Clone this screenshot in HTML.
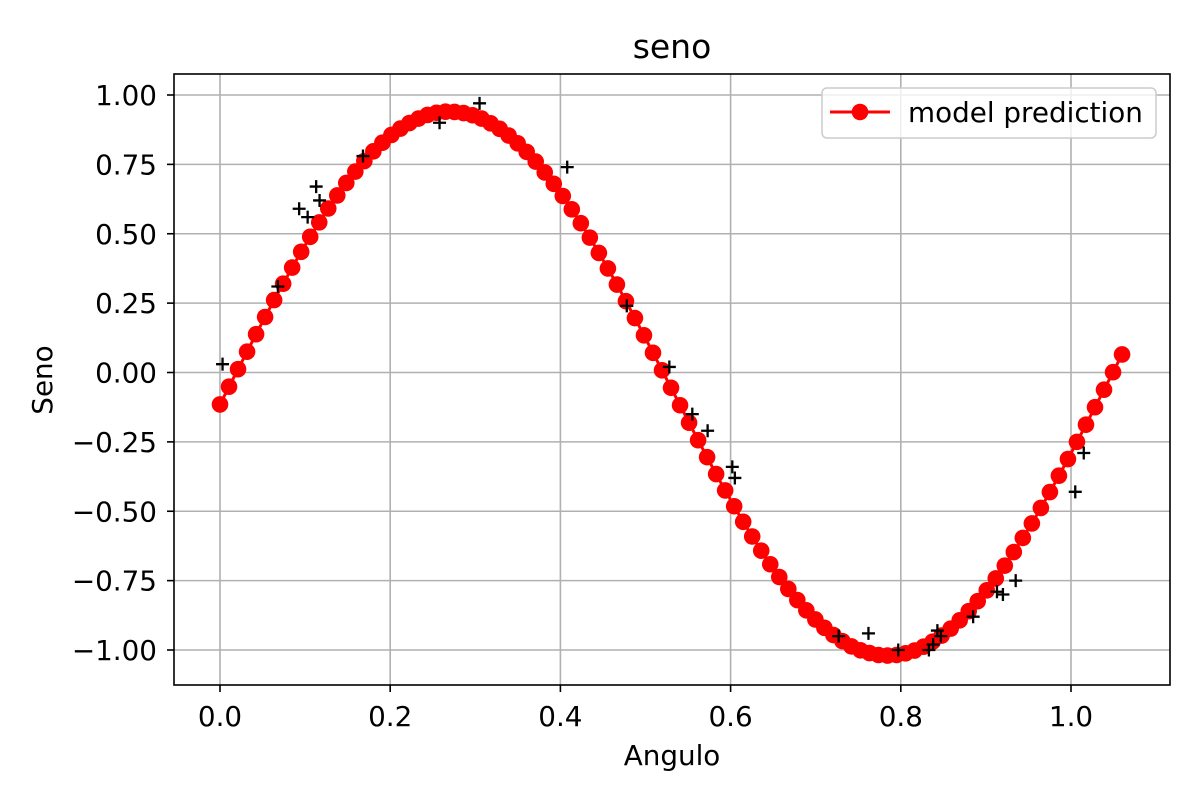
<!DOCTYPE html>
<html><head><meta charset="utf-8"><style>
html,body{margin:0;padding:0;background:#fff;}
svg{display:block;font-family:"DejaVu Sans","Liberation Sans",sans-serif;}
</style></head><body>
<svg id="chart" width="1200" height="800" viewBox="0 0 1200 800">
<rect width="1200" height="800" fill="#fff"/>
<g id="grid"></g>
<g id="series"></g>
<rect x="174" y="74" width="996" height="611" fill="none" stroke="#000" stroke-width="1.6"/>
<g id="ticks"></g>
<text x="672" y="58" font-size="33" text-anchor="middle">seno</text>
<text x="672" y="765" font-size="27.8" text-anchor="middle">Angulo</text>
<text x="0" y="0" font-size="27.8" text-anchor="middle" transform="translate(52,380) rotate(-90)">Seno</text>
<g>
<rect x="822" y="88" width="334" height="50" rx="5" fill="#fff" fill-opacity="0.8" stroke="#ccc" stroke-width="1.5"/>
<line x1="830" y1="112" x2="890" y2="112" stroke="red" stroke-width="3"/>
<circle cx="860" cy="112" r="8.3" fill="red"/>
<text x="908" y="122" font-size="27.8">model prediction</text>
</g>
</svg>
<script>
const predY = [-0.115,-0.051,0.012,0.075,0.138,0.200,0.261,0.320,0.378,0.435,0.489,0.541,0.591,0.638,0.683,0.724,0.762,0.797,0.828,0.856,0.879,0.899,0.915,0.928,0.936,0.940,0.939,0.935,0.927,0.915,0.898,0.878,0.854,0.826,0.795,0.760,0.721,0.680,0.636,0.588,0.538,0.486,0.431,0.375,0.317,0.257,0.196,0.134,0.071,0.008,-0.055,-0.118,-0.181,-0.244,-0.305,-0.366,-0.425,-0.482,-0.538,-0.591,-0.642,-0.691,-0.737,-0.780,-0.820,-0.857,-0.890,-0.920,-0.946,-0.968,-0.987,-1.001,-1.011,-1.018,-1.020,-1.018,-1.012,-1.002,-0.988,-0.970,-0.948,-0.923,-0.893,-0.860,-0.824,-0.785,-0.742,-0.696,-0.647,-0.596,-0.544,-0.488,-0.431,-0.372,-0.312,-0.250,-0.188,-0.125,-0.062,0.001,0.065];
const predXStep = 0.0106;
const obsX = [0.003,0.068,0.093,0.103,0.113,0.117,0.168,0.258,0.305,0.408,0.478,0.528,0.555,0.573,0.602,0.605,0.727,0.762,0.797,0.833,0.838,0.843,0.847,0.885,0.913,0.920,0.935,1.005,1.015];
const obsY = [0.03,0.31,0.59,0.56,0.67,0.62,0.78,0.90,0.97,0.74,0.24,0.02,-0.15,-0.21,-0.34,-0.38,-0.95,-0.94,-1.00,-1.00,-0.98,-0.93,-0.95,-0.88,-0.79,-0.80,-0.75,-0.43,-0.29];
const xTicks = [0.0,0.2,0.4,0.6,0.8,1.0];
const xTickLabels = ["0.0","0.2","0.4","0.6","0.8","1.0"];
const yTicks = [1.0,0.75,0.5,0.25,0,-0.25,-0.5,-0.75,-1.0];
const yTickLabels = ["1.00","0.75","0.50","0.25","0.00","\u22120.25","\u22120.50","\u22120.75","\u22121.00"];

const NS="http://www.w3.org/2000/svg";
const xs = v => 220 + v*851;
const ys = v => 372.5 - v*277.5;
function mk(tag, attrs, parent){const e=document.createElementNS(NS,tag);for(const k in attrs)e.setAttribute(k,attrs[k]);parent.appendChild(e);return e;}
const grid=document.getElementById('grid'), ticks=document.getElementById('ticks'), ser=document.getElementById('series');
xTicks.forEach((t,i)=>{
  const g=mk('line',{x1:xs(t),x2:xs(t),y1:74,y2:685,stroke:'#b0b0b0','stroke-width':1.6},grid);
  
  
  const tk=mk('line',{x1:xs(t),x2:xs(t),y1:685,y2:692,stroke:'#000','stroke-width':1.6},ticks);
  
  
  const tx=mk('text',{x:xs(t),y:726,'font-size':27.8,'text-anchor':'middle'},ticks);
  tx.textContent=xTickLabels[i];
  
  
});
yTicks.forEach((t,i)=>{
  const g=mk('line',{x1:174,x2:1170,y1:ys(t),y2:ys(t),stroke:'#b0b0b0','stroke-width':1.6},grid);
  
  
  const tk=mk('line',{x1:167,x2:174,y1:ys(t),y2:ys(t),stroke:'#000','stroke-width':1.6},ticks);
  
  
  const tx=mk('text',{x:157,y:ys(t)+10,'font-size':27.8,'text-anchor':'end'},ticks);
  tx.textContent=yTickLabels[i];
  
  
});
const pts=predY.map((v,i)=>xs(i*predXStep)+','+ys(v)).join(' ');
const pl=mk('polyline',{points:pts,fill:'none',stroke:'red','stroke-width':3},ser);


predY.forEach((v,i)=>{
  const c=mk('circle',{cx:xs(i*predXStep),cy:ys(v),r:8.3,fill:'red'},ser);
  
  
});
obsX.forEach((x,i)=>{
  const cx=xs(x), cy=ys(obsY[i]);
  const p=mk('path',{d:`M${cx-6.5},${cy}H${cx+6.5}M${cx},${cy-6.5}V${cy+6.5}`,stroke:'#000','stroke-width':2.3,fill:'none'},ser);
  
  
});
</script>
</body></html>
